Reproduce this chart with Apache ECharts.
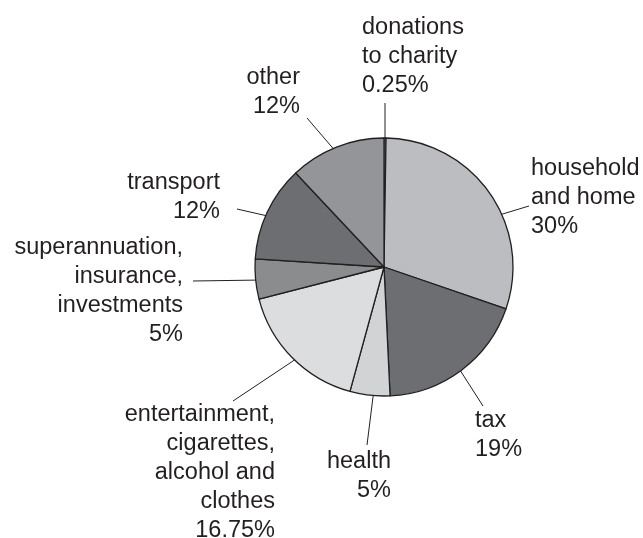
<!DOCTYPE html>
<html>
<head>
<meta charset="utf-8">
<script src="https://cdn.jsdelivr.net/npm/echarts@6/dist/echarts.min.js"></script>
<style>
  html, body { margin: 0; padding: 0; background: #fff; }
  #chart { width: 643px; height: 538px; }
</style>
</head>
<body>
<div id="chart"></div>
<script>
// data, clockwise from 12 o'clock
const categories = [
  'donations\nto charity',
  'household\nand home',
  'tax',
  'health',
  'entertainment,\ncigarettes,\nalcohol and\nclothes',
  'superannuation,\ninsurance,\ninvestments',
  'transport',
  'other'
]
const percents = [0.25, 30, 19, 5, 16.75, 5, 12, 12]
const sliceColors = ['#a7a9ac', '#bcbdc0', '#6d6e71', '#d1d3d4', '#dcdddf', '#8a8c8e', '#6d6e71', '#939598']

// label placement: text anchor + leader line (inner point -> outer point)
const labelPos = [
  { x: 362, y: 13, align: 'left', line: [[385, 139], [385, 103]] },
  { x: 531, y: 154, align: 'left', line: [[496, 216], [529, 206]] },
  { x: 475, y: 406, align: 'left', line: [[458, 367], [483, 406]] },
  { x: 391, y: 447, align: 'right', line: [[374, 389], [367, 445]] },
  { x: 275, y: 400, align: 'right', line: [[299, 357], [233, 401]] },
  { x: 183, y: 233, align: 'right', line: [[262, 280], [193, 281]] },
  { x: 220, y: 168, align: 'right', line: [[272, 217], [237, 209]] },
  { x: 300, y: 63, align: 'right', line: [[337, 153], [307, 118]] }
]

const chart = echarts.init(document.getElementById('chart'), null, { renderer: 'canvas' })

const option = {
  animation: false,
  series: [
    {
      type: 'pie',
      center: [384, 267],
      radius: 129,
      startAngle: 90,
      clockwise: true,
      avoidLabelOverlap: false,
      silent: true,
      data: categories.map((name, i) => ({
        name: name,
        value: percents[i],
        itemStyle: { color: sliceColors[i] }
      })),
      itemStyle: {
        borderColor: '#231f20',
        borderWidth: 1.3
      },
      label: {
        show: true,
        formatter: p => p.name + '\n' + p.value + '%',
        fontFamily: 'Liberation Sans, Arial, sans-serif',
        fontSize: 23.5,
        lineHeight: 29,
        color: '#231f20'
      },
      labelLine: {
        show: true,
        length: 10,
        length2: 10,
        lineStyle: { color: '#231f20', width: 1 }
      },
      labelLayout: params => {
        const lp = labelPos[params.dataIndex]
        return {
          x: lp.x,
          y: lp.y,
          align: lp.align,
          verticalAlign: 'top',
          labelLinePoints: [lp.line[0], lp.line[1], lp.line[1]]
        }
      }
    }
  ]
}

chart.setOption(option)
</script>
</body>
</html>
